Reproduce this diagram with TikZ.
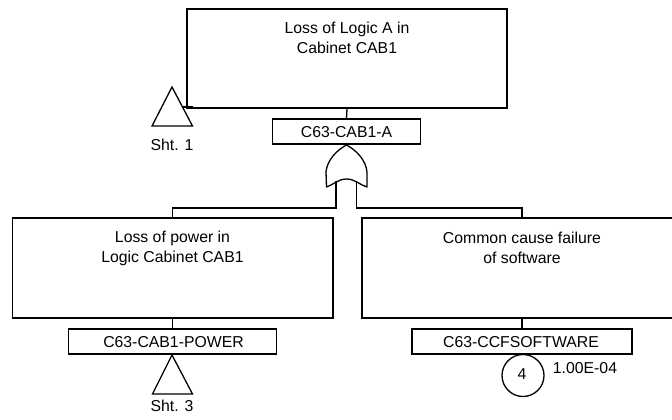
\documentclass[tikz,border=0pt]{standalone}
\usepackage{fontspec}
\setmainfont{Liberation Sans}
\tikzset{
  every picture/.style={x=1pt,y=-1pt},
  line/.style={draw=black,line width=1.3pt},
  evbox/.style={line,rectangle,inner sep=0pt,fill=white},
  lab/.style={font=\fontsize{15.8}{20}\selectfont,inner sep=0pt,align=center,text=black},
}
\begin{document}
\begin{tikzpicture}
\useasboundingbox (0,0) rectangle (672,420);
% boxes
\node[evbox,minimum width=320pt,minimum height=99pt] (top) at (347,58.5) {};
\node[evbox,minimum width=148.5pt,minimum height=25pt] (topid) at (346.5,131.5) {};
\node[evbox,minimum width=320.5pt,minimum height=100pt] (left) at (172.7,268) {};
\node[evbox,minimum width=208.5pt,minimum height=25pt] (leftid) at (172.5,341.5) {};
\node[evbox,minimum width=320pt,minimum height=100pt] (right) at (522,268) {};
\node[evbox,minimum width=220pt,minimum height=25pt] (rightid) at (522,341.5) {};
% labels
\node[lab] (t1) at (347,38) {Loss of Logic A in\\Cabinet CAB1};
\node[lab] (t2) at (172.5,248) {Loss of power in\\Logic Cabinet CAB1};
\node[lab] (t3) at (522,248) {Common cause failure\\of software};
\node[lab] (i1) at (346.5,132) {C63-CAB1-A};
\node[lab] (i2) at (173.5,342) {C63-CAB1-POWER};
\node[lab] (i3) at (521,342) {C63-CCFSOFTWARE};
% connectors
\draw[line] (top.south) -- (topid.north);
\draw[line] (left.south -| leftid.north) -- (leftid.north);
\draw[line] (right.south -| rightid.north) -- (rightid.north);
% OR gate
\coordinate (apex) at (346.5,145);
\coordinate (gl) at (326.5,187);
\coordinate (gr) at (367,187);
\coordinate (inl) at (336,180.5);
\coordinate (inr) at (356.5,180.5);
\draw[line,line join=round,fill=white] (apex)
  .. controls (337,150) and (327,160) .. (326,172) -- (gl)
  .. controls (333,185) and (338,179) .. (346.5,179)
  .. controls (355,179) and (360,185) .. (gr)
  -- (367,172) .. controls (366,160) and (356,150) .. (apex) -- cycle;
\draw[line] (inl) -- (336,208) -| (left.north);
\draw[line] (inr) -- (356.5,208) -| (right.north);
% triangles
\draw[line,line join=miter] (172,87) -- (192.5,126) -- (152,126) -- cycle;
\draw[line,line width=1.8pt] (183,107.3) -- (193,107.3);
\node[lab] (s1) at (172,145) {Sht. 1};
\draw[line,line join=miter] (172,355) -- (192.5,394) -- (152.5,394) -- cycle;
\node[lab] (s3) at (172,406) {Sht. 3};
% transfer circle
\node[line,circle,minimum size=42pt,inner sep=0pt,fill=white,lab] (c4) at (523,375.5) {};
\node[lab] (n4) at (522,374) {4};
\node[lab] (p) at (585,368) {1.00E-04};
\end{tikzpicture}
\end{document}
